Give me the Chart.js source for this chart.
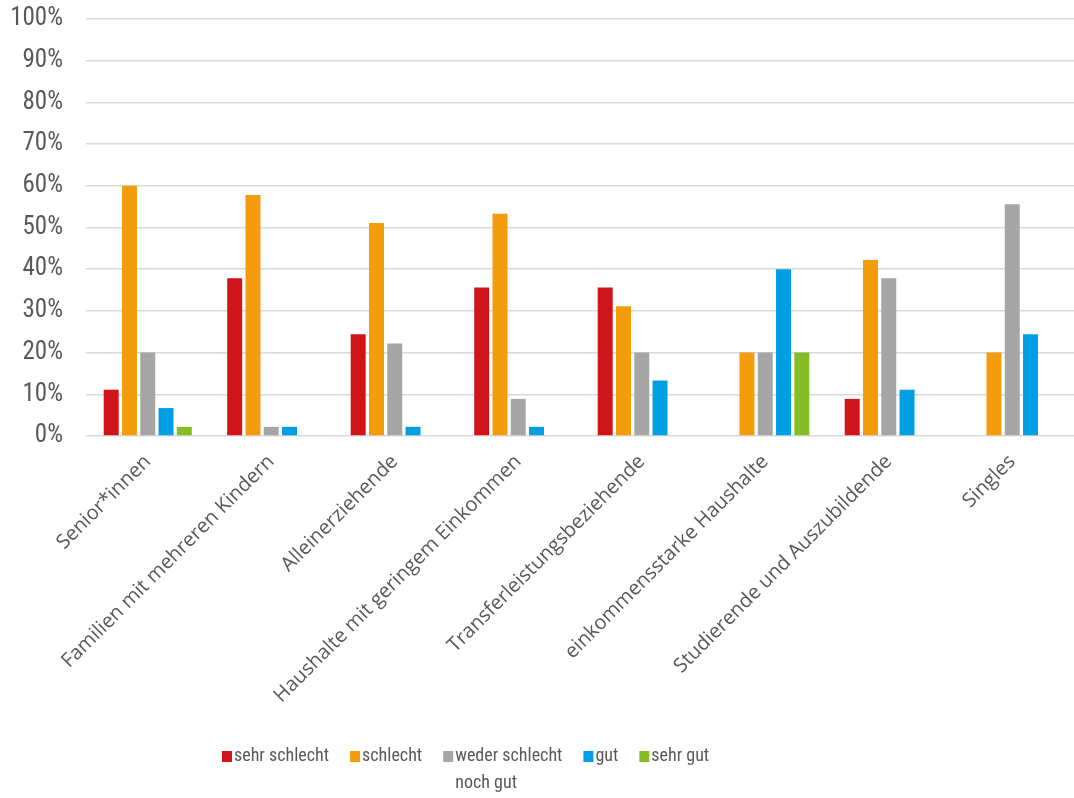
<!DOCTYPE html>
<html>
<head>
<meta charset="utf-8">
<script src="https://cdn.jsdelivr.net/npm/chart.js@4.4.1/dist/chart.umd.min.js"></script>
<style>
  html, body { margin: 0; padding: 0; background: #fff; }
  #wrap { width: 1074px; height: 798px; }
</style>
</head>
<body>
<div id="wrap"><canvas id="chart"></canvas></div>
<script>
var kategorien = ["Senior*innen", "Familien mit mehreren Kindern", "Alleinerziehende",
  "Haushalte mit geringem Einkommen", "Transferleistungsbeziehende",
  "einkommensstarke Haushalte", "Studierende und Auszubildende", "Singles"];
var sehrSchlecht = [11.1, 37.8, 24.4, 35.6, 35.6, null, 8.9, null];
var schlecht = [60, 57.8, 51.1, 53.3, 31.1, 20, 42.2, 20];
var weder = [20, 2.2, 22.2, 8.9, 20, 20, 37.8, 55.6];
var gut = [6.7, 2.2, 2.2, 2.2, 13.3, 40, 11.1, 24.4];
var sehrGut = [2.2, null, null, null, null, 20, null, null];
var legendeText = [["sehr schlecht"], ["schlecht"], ["weder schlecht", "noch gut"], ["gut"], ["sehr gut"]];
var farben = ["#cf141a", "#f39c0c", "#a6a6a6", "#009fe3", "#86bc25"];

var schmal = "'Liberation Sans Narrow', 'Roboto Condensed', Roboto, sans-serif";
var achsenSchrift = "'Open Sans', 'Noto Sans', sans-serif";
var grau = "#595959";

// eigene Legende unten, damit der Zeilenumbruch wie im Original aussieht
var legendePlugin = {
  id: "legende",
  afterDraw: function (chart) {
    var ctx = chart.ctx;
    ctx.save();
    ctx.font = "18px " + schmal;
    ctx.textBaseline = "middle";
    var x = 222, y = 756;
    chart.data.datasets.forEach(function (ds, i) {
      var zeilen = legendeText[i];
      ctx.fillStyle = ds.backgroundColor;
      ctx.fillRect(x, y - 5, 10, 11);
      ctx.fillStyle = grau;
      var breite = 0;
      zeilen.forEach(function (z, k) {
        ctx.fillText(z, x + 12, y + k * 27);
        breite = Math.max(breite, ctx.measureText(z).width);
      });
      x += 12 + breite + 21;
    });
    ctx.restore();
  }
};

new Chart("chart", {
  type: "bar",
  data: {
    labels: kategorien,
    datasets: [
      { label: "sehr schlecht", data: sehrSchlecht, backgroundColor: farben[0] },
      { label: "schlecht", data: schlecht, backgroundColor: farben[1] },
      { label: "weder schlecht noch gut", data: weder, backgroundColor: farben[2] },
      { label: "gut", data: gut, backgroundColor: farben[3] },
      { label: "sehr gut", data: sehrGut, backgroundColor: farben[4] }
    ]
  },
  options: {
    responsive: true,
    maintainAspectRatio: false,
    animation: false,
    layout: { padding: { top: 19, left: 0, right: 0, bottom: 0 } },
    datasets: { bar: { categoryPercentage: 0.74, barPercentage: 0.82 } },
    plugins: {
      legend: { display: false },
      tooltip: { enabled: false }
    },
    scales: {
      x: {
        grid: { display: false },
        border: { display: false },
        ticks: {
          color: grau,
          font: { family: achsenSchrift, size: 20 },
          minRotation: 45,
          maxRotation: 45,
          padding: 6
        },
        afterFit: function (axis) { axis.height = 362; }
      },
      y: {
        min: 0,
        max: 100,
        ticks: {
          stepSize: 10,
          color: grau,
          padding: 23,
          font: { family: schmal, size: 25 },
          callback: function (v) { return v + "%"; }
        },
        grid: { color: "#d9d9d9", lineWidth: 1.5, drawTicks: false },
        border: { display: false },
        afterFit: function (axis) {
          axis.width = 86;
          axis.paddingTop = 0;
          axis.paddingBottom = 0;
        }
      }
    }
  },
  plugins: [legendePlugin]
});
</script>
</body>
</html>
